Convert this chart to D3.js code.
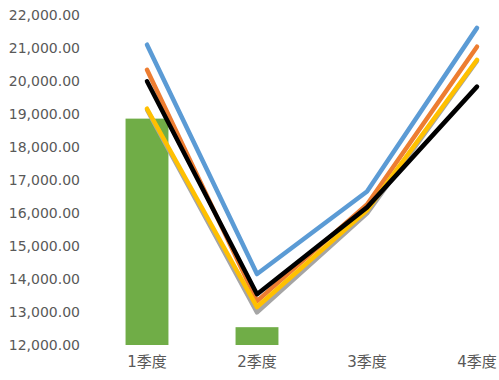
<!DOCTYPE html>
<html><head><meta charset="utf-8">
<script src="https://cdn.jsdelivr.net/npm/d3@7/dist/d3.min.js"></script>
<style>body{margin:0;background:#fff}svg{display:block}</style>
</head><body>
<svg id="chart" width="499" height="380"></svg>
<script>
const categories = ["1季度", "2季度", "3季度", "4季度"];
const barValues = [18860, 12540, null, null];
const blueValues = [21100, 14150, 16650, 21610];
const orangeValues = [20340, 13330, 16260, 21040];
const grayValues = [19130, 12990, 15990, 20610];
const yellowValues = [19160, 13150, 16080, 20640];
const blackValues = [19990, 13540, 16170, 19830];
const yTicks = [12000,13000,14000,15000,16000,17000,18000,19000,20000,21000,22000];

const svg = d3.select("#chart");
const x = d3.scaleBand().domain(categories).range([92, 532]).paddingInner(0.61).paddingOuter(0.305);
const y = d3.scaleLinear().domain([12000, 22000]).range([345, 15]);

const fmt = d3.format(",.2f");
const yAxis = d3.axisLeft(y).tickValues(yTicks).tickFormat(fmt).tickSize(0).tickPadding(0);
const gy = svg.append("g").attr("transform", "translate(80,0.5)").call(yAxis);
gy.select(".domain").remove();
gy.selectAll("text").attr("fill", "#595959").style("font-family", "'DejaVu Sans', sans-serif").style("font-size", "14px");

const xAxis = d3.axisBottom(x).tickSize(0).tickPadding(0);
const gx = svg.append("g").attr("transform", "translate(0,356)").call(xAxis);
gx.select(".domain").remove();
gx.selectAll("text").attr("fill", "#595959").style("font-family", "'DejaVu Sans', 'Noto Sans CJK SC', sans-serif").style("font-size", "15px");

svg.append("g").selectAll("rect")
  .data(categories.map((c, i) => ({c, v: barValues[i]})).filter(d => d.v != null))
  .join("rect")
  .attr("x", d => x(d.c))
  .attr("width", x.bandwidth())
  .attr("y", d => y(d.v))
  .attr("height", d => y(12000) - y(d.v))
  .attr("fill", "#70AD47");

const series = [
  {vals: blueValues, color: "#5B9BD5"},
  {vals: orangeValues, color: "#ED7D31"},
  {vals: grayValues, color: "#A5A5A5"},
  {vals: yellowValues, color: "#FFC000"},
  {vals: blackValues, color: "#000000"}
];
const line = d3.line().x((d, i) => x(categories[i]) + x.bandwidth() / 2).y(d => y(d));
svg.append("g").selectAll("path")
  .data(series)
  .join("path")
  .attr("d", s => line(s.vals))
  .attr("fill", "none")
  .attr("stroke", s => s.color)
  .attr("stroke-width", 4.5)
  .attr("stroke-linecap", "round")
  .attr("stroke-linejoin", "round");
</script>
</body></html>
